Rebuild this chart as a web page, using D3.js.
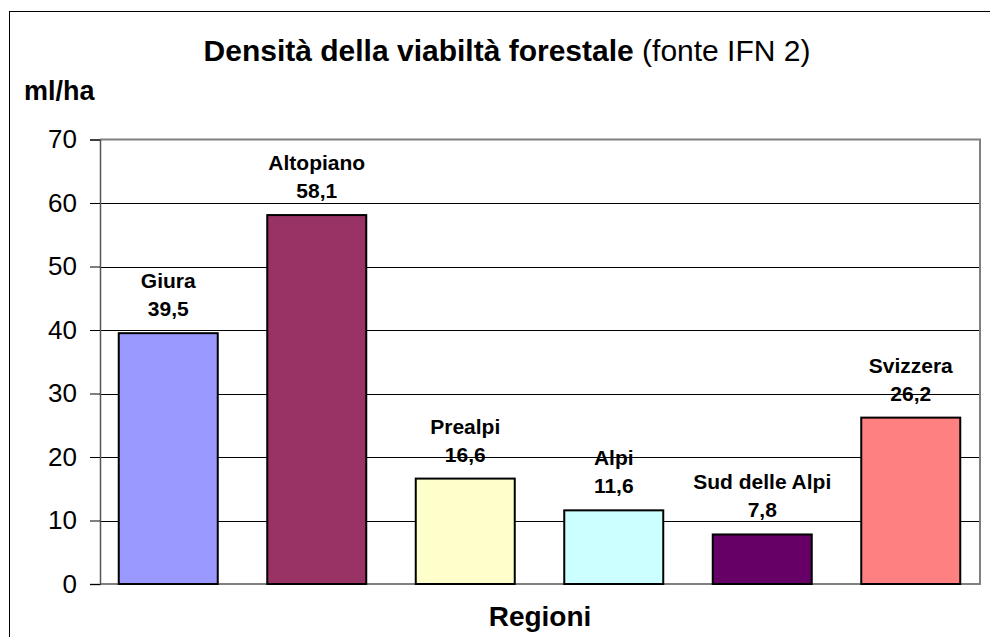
<!DOCTYPE html>
<html lang="it">
<head>
<meta charset="utf-8">
<title>Densità della viabiltà forestale</title>
<script src="https://cdn.jsdelivr.net/npm/d3@7"></script>
<style>
  body { margin: 0; background: #fff; }
  svg text { font-family: Arial, "Liberation Sans", sans-serif; fill: #000; }
</style>
</head>
<body>
<div id="viz"></div>
<script>
// dati
var regioni = ["Giura", "Altopiano", "Prealpi", "Alpi", "Sud delle Alpi", "Svizzera"];
var densita = [39.5, 58.1, 16.6, 11.6, 7.8, 26.2];
var colori = ["#9999ff", "#993366", "#ffffcc", "#ccffff", "#660066", "#ff8080"];
var yTicks = [0, 10, 20, 30, 40, 50, 60, 70];

var W = 990, H = 637;
var plot = { left: 100, right: 980, top: 139.5, bottom: 584 };

var svg = d3.select("#viz").append("svg")
  .attr("width", W)
  .attr("height", H);

// cornice esterna
svg.append("rect")
  .attr("x", 9.5).attr("y", 11.5)
  .attr("width", 1000).attr("height", 700)
  .attr("fill", "#fff").attr("stroke", "#000").attr("stroke-width", 1);

var x = d3.scaleBand()
  .domain(regioni)
  .range([94, 985])
  .paddingInner(1 / 3)
  .paddingOuter(1 / 6);

var y = d3.scaleLinear()
  .domain([0, 70])
  .range([plot.bottom, plot.top]);

// griglia
svg.append("g").selectAll("line")
  .data(yTicks.filter(function(d) { return d > 0 && d < 70; }))
  .enter().append("line")
  .attr("x1", plot.left).attr("x2", plot.right)
  .attr("y1", function(d) { return Math.round(y(d)) + 0.5; })
  .attr("y2", function(d) { return Math.round(y(d)) + 0.5; })
  .attr("stroke", "#000").attr("stroke-width", 1);

// cornice area del grafico (alto, destra, basso)
svg.append("path")
  .attr("d", "M" + plot.left + "," + plot.top + "H" + plot.right + "V" + plot.bottom + "H" + plot.left)
  .attr("fill", "none").attr("stroke", "#808080").attr("stroke-width", 2);

// asse y
var yAxis = d3.axisLeft(y)
  .tickValues(yTicks)
  .tickSize(10)
  .tickPadding(13)
  .tickFormat(d3.format("d"));

var gy = svg.append("g")
  .attr("transform", "translate(" + plot.left + ",0)")
  .call(yAxis);
gy.select(".domain").attr("stroke", "#555").attr("stroke-width", 1.5);
gy.selectAll(".tick line").attr("stroke", "#000");
gy.selectAll(".tick text")
  .attr("font-size", 26)
  .attr("font-family", "Arial, 'Liberation Sans', sans-serif")
  .attr("fill", "#000");

// barre
svg.append("g").selectAll("rect")
  .data(regioni)
  .enter().append("rect")
  .attr("x", function(d) { return x(d); })
  .attr("y", function(d, i) { return y(densita[i]); })
  .attr("width", x.bandwidth())
  .attr("height", function(d, i) { return y(0) - y(densita[i]); })
  .attr("fill", function(d, i) { return colori[i]; })
  .attr("stroke", "#000").attr("stroke-width", 2);

// etichette dati
var fmt = function(v) { return d3.format(".1f")(v).replace(".", ","); };
var lab = svg.append("g").selectAll("text")
  .data(regioni)
  .enter().append("text")
  .attr("text-anchor", "middle")
  .attr("font-size", 21)
  .attr("font-weight", "bold");
lab.append("tspan")
  .attr("x", function(d) { return x(d) + x.bandwidth() / 2; })
  .attr("y", function(d, i) { return y(densita[i]) - 45; })
  .text(function(d) { return d; });
lab.append("tspan")
  .attr("x", function(d) { return x(d) + x.bandwidth() / 2; })
  .attr("y", function(d, i) { return y(densita[i]) - 17; })
  .text(function(d, i) { return fmt(densita[i]); });

// titolo
var title = svg.append("text")
  .attr("x", 507).attr("y", 61)
  .attr("text-anchor", "middle")
  .attr("font-size", 30);
title.append("tspan").attr("font-weight", "bold").text("Densità della viabiltà forestale");
title.append("tspan").text(" (fonte IFN 2)");

// titoli assi
svg.append("text")
  .attr("x", 24).attr("y", 100)
  .attr("font-size", 27).attr("font-weight", "bold")
  .text("ml/ha");

svg.append("text")
  .attr("x", (plot.left + plot.right) / 2).attr("y", 626)
  .attr("text-anchor", "middle")
  .attr("font-size", 28).attr("font-weight", "bold")
  .text("Regioni");
</script>
</body>
</html>
